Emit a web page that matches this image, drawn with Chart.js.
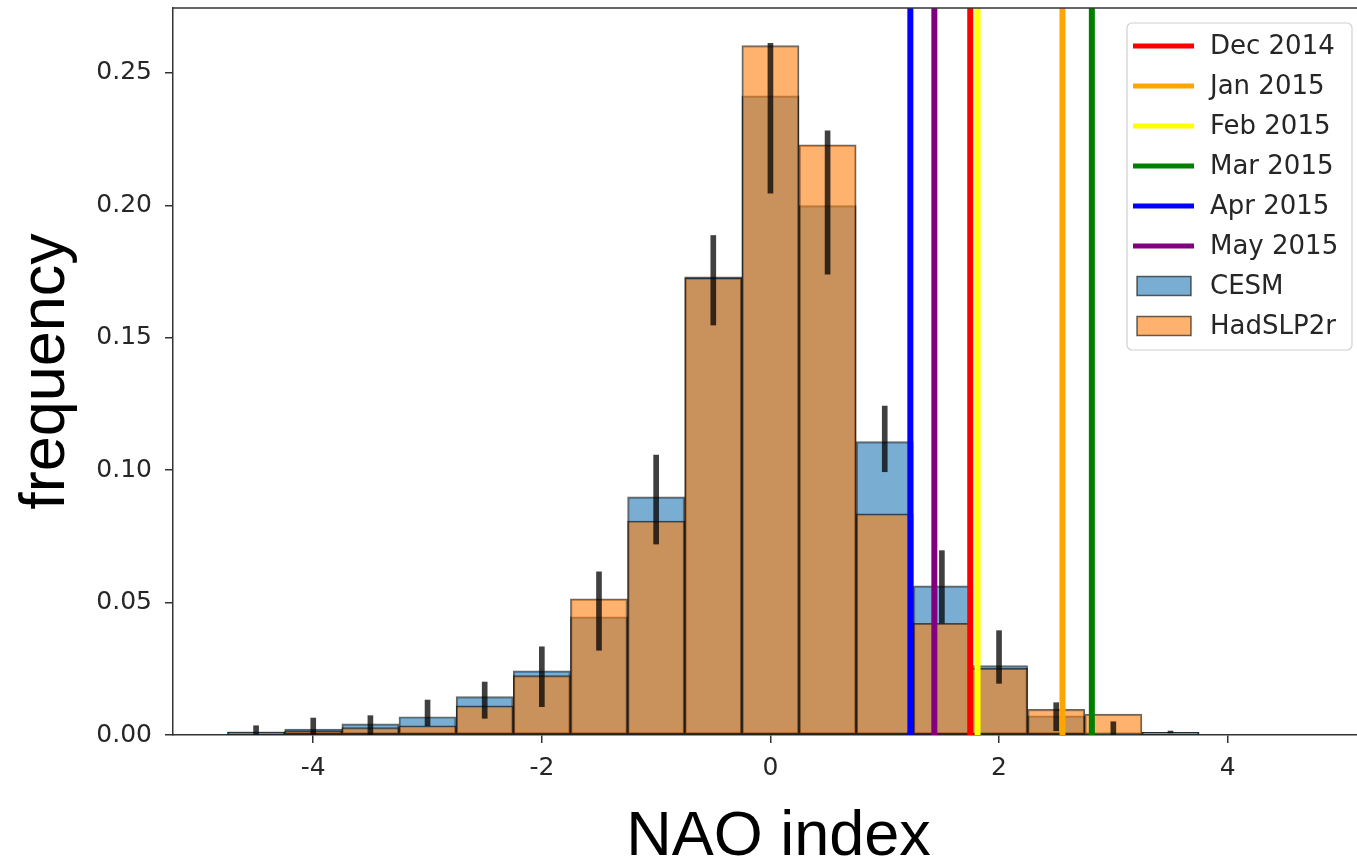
<!DOCTYPE html>
<html><head><meta charset="utf-8">
<script src="https://cdn.jsdelivr.net/npm/chart.js@4"></script>
<style>html,body{margin:0;padding:0;overflow:hidden;background:#fff}#wrap{width:1384px;height:864px}</style>
</head><body><div id="wrap"><canvas id="c" width="1384" height="864"></canvas></div>
<script>
const binCenters = [-4.5,-4,-3.5,-3,-2.5,-2,-1.5,-1,-0.5,0,0.5,1,1.5,2,2.5,3,3.5];
const cesmFreq = [0.0012,0.0022,0.0042,0.0069,0.0145,0.0242,0.0446,0.0899,0.1730,0.2413,0.1999,0.1108,0.0563,0.0262,0.0072,0.0004,0.0010];
const hadFreq  = [0.0010,0.0016,0.0028,0.0035,0.0110,0.0224,0.0514,0.0808,0.1726,0.2603,0.2228,0.0835,0.0422,0.0252,0.0097,0.0079,0.0010];
const errLow   = [0.0000,0.0000,0.0000,0.0035,0.0063,0.0107,0.0320,0.0721,0.1548,0.2046,0.1740,0.0994,0.0422,0.0195,0.0016,0.0000,0.0008];
const errHigh  = [0.0035,0.0064,0.0073,0.0132,0.0200,0.0333,0.0616,0.1057,0.1886,0.2612,0.2281,0.1242,0.0696,0.0394,0.0122,0.0050,0.0015];
const monthLabels = ['Dec 2014','Jan 2015','Feb 2015','Mar 2015','Apr 2015','May 2015'];
const monthNAO = [1.748, 2.555, 1.812, 2.812, 1.224, 1.434];
const monthColors = ['#ff0000','#ffa500','#ffff00','#008000','#0000ff','#800080'];
const xTicks = [-4,-2,0,2,4];
const yTicks = [0,0.05,0.10,0.15,0.20,0.25];
const xRange = [-5.227, 5.368];
const yRange = [0, 0.2745];

const datasets = [];
monthLabels.forEach((lab,i)=>datasets.push({
  type:'line', label:lab,
  data:[{x:monthNAO[i],y:yRange[0]},{x:monthNAO[i],y:yRange[1]}],
  borderColor:monthColors[i], borderWidth:6, pointRadius:0, borderCapStyle:'butt', order:0
}));
datasets.push({type:'bar', label:'err',
  data: binCenters.map((c,i)=>({x:c,y:[errLow[i],errHigh[i]]})),
  backgroundColor:'rgba(0,0,0,0.75)', borderWidth:0, barThickness:5, grouped:false, order:1});
datasets.push({type:'bar', label:'HadSLP2r',
  data: binCenters.map((c,i)=>({x:c,y:hadFreq[i]})),
  backgroundColor:'rgba(255,127,14,0.6)', borderColor:'rgba(0,0,0,0.6)', borderWidth:1.5,
  borderSkipped:false, grouped:false, barPercentage:1, categoryPercentage:1, order:2});
datasets.push({type:'bar', label:'CESM',
  data: binCenters.map((c,i)=>({x:c,y:cesmFreq[i]})),
  backgroundColor:'rgba(31,119,180,0.6)', borderColor:'rgba(0,0,0,0.6)', borderWidth:1.5,
  borderSkipped:false, grouped:false, barPercentage:1, categoryPercentage:1, order:3});

const legendEntries = monthLabels.map((l,i)=>({label:l, kind:'line', color:monthColors[i]}))
  .concat([{label:'CESM', kind:'patch', color:'rgba(31,119,180,0.6)'},{label:'HadSLP2r', kind:'patch', color:'rgba(255,127,14,0.6)'}]);

const extras = {
  id:'extras',
  afterDraw(chart){
    const ctx = chart.ctx, a = chart.chartArea;
    ctx.save();
    ctx.strokeStyle = '#333'; ctx.lineWidth = 1.5;
    ctx.beginPath(); ctx.moveTo(a.left, a.top); ctx.lineTo(a.right, a.top); ctx.stroke();
    // legend
    const bx=1127, by=23, bw=225, bh=327, r=5;
    ctx.beginPath();
    ctx.moveTo(bx+r,by); ctx.lineTo(bx+bw-r,by); ctx.arcTo(bx+bw,by,bx+bw,by+r,r);
    ctx.lineTo(bx+bw,by+bh-r); ctx.arcTo(bx+bw,by+bh,bx+bw-r,by+bh,r);
    ctx.lineTo(bx+r,by+bh); ctx.arcTo(bx,by+bh,bx,by+bh-r,r);
    ctx.lineTo(bx,by+r); ctx.arcTo(bx,by,bx+r,by,r); ctx.closePath();
    ctx.fillStyle='rgba(255,255,255,0.85)'; ctx.fill();
    ctx.strokeStyle='#d0d0d0'; ctx.lineWidth=1.2; ctx.stroke();
    ctx.font = '26px "DejaVu Sans"'; ctx.textBaseline='middle'; ctx.textAlign='left';
    legendEntries.forEach((e,i)=>{
      const cy = 46 + 40*i;
      if (e.kind==='line'){
        ctx.strokeStyle=e.color; ctx.lineWidth=5; ctx.lineCap='butt';
        ctx.beginPath(); ctx.moveTo(1133,cy); ctx.lineTo(1194,cy); ctx.stroke();
      } else {
        ctx.fillStyle=e.color; ctx.fillRect(1137,cy-9.5,54,19);
        ctx.strokeStyle='rgba(0,0,0,0.6)'; ctx.lineWidth=1.5; ctx.strokeRect(1137,cy-9.5,54,19);
      }
      ctx.fillStyle='#262626'; ctx.fillText(e.label, 1210, cy+1);
    });
    ctx.restore();
  }
};

new Chart(document.getElementById('c'), {
  type:'bar',
  data:{datasets},
  options:{
    responsive:false, animation:false, devicePixelRatio:1,
    layout:{padding:{top:8,left:0,right:0,bottom:0}},
    plugins:{legend:{display:false}, tooltip:{enabled:false}},
    scales:{
      x:{type:'linear', min:xRange[0], max:xRange[1], offset:false,
        grid:{drawOnChartArea:false, offset:false, tickLength:8, color:'#333', lineWidth:1.5},
        border:{color:'#333', width:1.5},
        ticks:{font:{family:'DejaVu Sans', size:25}, color:'#262626', padding:10, maxRotation:0},
        afterBuildTicks:s=>{s.ticks = xTicks.map(v=>({value:v}));},
        afterFit:s=>{s.height=129; s.paddingLeft=0; s.paddingRight=0;},
        title:{display:true, text:'NAO index', color:'#000', font:{family:'Liberation Sans', size:63, lineHeight:0.84}, padding:{top:0,bottom:0}}
      },
      y:{min:yRange[0], max:yRange[1],
        grid:{drawOnChartArea:false, tickLength:8, color:'#333', lineWidth:1.5},
        border:{color:'#333', width:1.5},
        ticks:{font:{family:'DejaVu Sans', size:25}, color:'#262626', padding:13, callback:v=>v.toFixed(2)},
        afterBuildTicks:s=>{s.ticks = yTicks.map(v=>({value:v}));},
        afterFit:s=>{s.width=173; s.paddingTop=0; s.paddingBottom=0;},
        title:{display:true, text:'frequency', color:'#000', font:{family:'Liberation Sans', size:63, lineHeight:0.84}, padding:{top:20,bottom:0}}
      }
    }
  },
  plugins:[extras]
});
</script></body></html>
